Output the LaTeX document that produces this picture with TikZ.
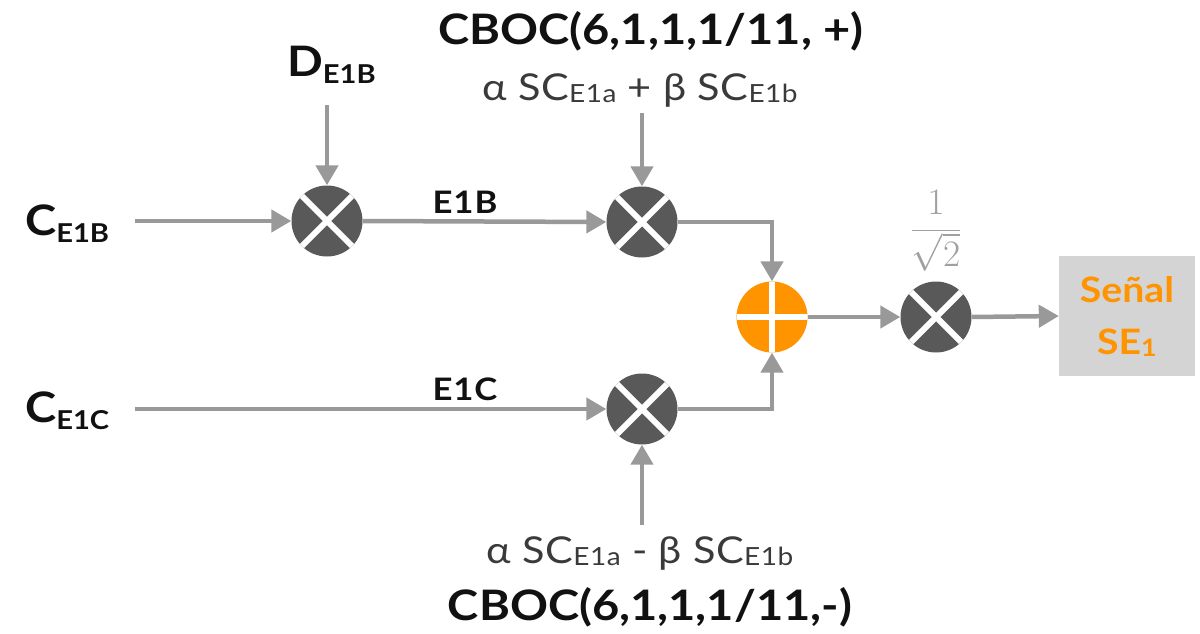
\documentclass[tikz,border=0pt]{standalone}
\usepackage{fontspec}
\setmainfont{Lato}[FakeStretch=1.12]
\usetikzlibrary{arrows.meta}

\definecolor{wirecol}{HTML}{999999}
\definecolor{mixercol}{HTML}{595959}
\definecolor{summercol}{HTML}{FF9300}
\definecolor{boxcol}{HTML}{D4D4D4}
\definecolor{inkdark}{HTML}{111111}
\definecolor{inkmid}{HTML}{3A3A3A}
\definecolor{inklight}{HTML}{A0A0A0}

% lowered subscript: size, drop, text
\newcommand{\lowsub}[3]{{\fontsize{#1}{#1}\selectfont\raisebox{-#2}{#3}}}

\begin{document}
\begin{tikzpicture}[x=1pt,y=-1pt,
  wire/.style={draw=wirecol, line width=4.5pt, -{Triangle[length=20pt,width=22pt]}},
  mult/.style={circle, fill=mixercol, minimum size=71pt, inner sep=0pt,
    path picture={\draw[white, line width=6pt]
      (path picture bounding box.north west) -- (path picture bounding box.south east)
      (path picture bounding box.north east) -- (path picture bounding box.south west);}},
  summer/.style={circle, fill=summercol, minimum size=71pt, inner sep=0pt,
    path picture={\draw[white, line width=6pt]
      (path picture bounding box.north) -- (path picture bounding box.south)
      (path picture bounding box.west) -- (path picture bounding box.east);}},
  biglabel/.style={inner sep=0pt, text=inkdark, font=\fontsize{42}{42}\selectfont\bfseries},
  pathlabel/.style={inner sep=0pt, text=inkdark,
    font=\fontsize{31}{31}\selectfont\bfseries\addfontfeatures{LetterSpace=3}},
  codelabel/.style={inner sep=0pt, text=inkmid,
    font=\fontsize{37}{37}\selectfont\addfontfeatures{LetterSpace=2}},
  outbox/.style={fill=boxcol, minimum width=136pt, minimum height=120pt, inner sep=0pt,
    text=summercol, align=center, font=\fontsize{35}{52}\selectfont\bfseries}
]
\useasboundingbox (0,0) rectangle (1200,634);

% combining blocks
\node[mult] (m1) at (327,221) {};
\node[mult] (m2) at (642,222) {};
\node[mult] (m3) at (642,409) {};
\node[summer] (add) at (772,317) {};
\node[mult] (m4) at (936,317) {};
\node[outbox] (out) at (1127,316) {Señal\\SE\lowsub{24}{2pt}{1}};

% input labels
\node[biglabel, anchor=base west] (cb) at (25,235) {C\lowsub{26}{7pt}{E1B}};
\node[biglabel, anchor=base west] (cc) at (25,422) {C\lowsub{26}{7pt}{E1C}};
\node[biglabel, anchor=base west] (db) at (287,77) {D\lowsub{26}{7pt}{E1B}};

% subcarrier labels
\node[biglabel, anchor=base] (cbocp) at (651,45) {CBOC(6,1,1,1/11, +)};
\node[codelabel, anchor=base] (scp) at (640,100) {α SC\lowsub{25}{2pt}{E1a} + β SC\lowsub{25}{2pt}{E1b}};
\node[codelabel, anchor=base] (scm) at (640,563) {α SC\lowsub{25}{2pt}{E1a} - β SC\lowsub{25}{2pt}{E1b}};
\node[biglabel, anchor=base] (cbocm) at (650,620) {CBOC(6,1,1,1/11,-)};

% branch labels
\node[pathlabel, anchor=base] (lb) at (465,213) {E1B};
\node[pathlabel, anchor=base] (lc) at (465,400) {E1C};

% scale factor
\node[inner sep=0pt, text=inklight, anchor=base] (gain) at (936,240)
  {\scalebox{1.5}{\fontsize{24}{28}\selectfont$\displaystyle\frac{1}{\sqrt{2}}$}};

% wire end points
\coordinate (inb) at (135,221);
\coordinate (inc) at (135,409);
\coordinate (ind) at (327,105);
\coordinate (inp) at (642,113);
\coordinate (inm) at (642,525);

% connections
\draw[wire] (inb) -- (m1.west);
\draw[wire] (ind) -- (m1.north);
\draw[wire] (m1.east) -- (m2.west);
\draw[wire] (inp) -- (m2.north);
\draw[wire] (inc) -- (m3.west);
\draw[wire] (inm) -- (m3.south);
\draw[wire] (m2.east) -| (add.north);
\draw[wire] (m3.east) -| (add.south);
\draw[wire] (add.east) -- (m4.west);
\draw[wire] (m4.east) -- (out.west);
\end{tikzpicture}
\end{document}
